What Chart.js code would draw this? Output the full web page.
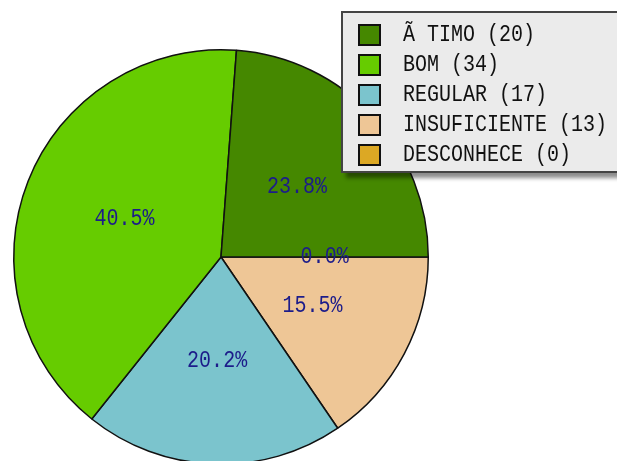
<!DOCTYPE html>
<html>
<head>
<meta charset="utf-8">
<script src="https://cdn.jsdelivr.net/npm/chart.js@4"></script>
<style>
  html, body { margin: 0; padding: 0; background: #fff; overflow: hidden; }
  #wrap { position: relative; width: 617px; height: 470px; }
  #legend {
    position: absolute; left: 341px; top: 11px; width: 290px; height: 158px;
    background: #ebebeb; border: 2px solid #444;
    box-shadow: 5px 5px 4px rgba(0,0,0,0.45);
    font-family: 'Liberation Mono', monospace; font-size: 20px; color: #111;
  }
  .row { position: absolute; left: 15px; height: 22px; line-height: 22px; white-space: nowrap; }
  .sw { position: absolute; left: 0; top: 0; width: 19px; height: 18px; border: 2px solid #111; }
  .lbl { position: absolute; left: 45px; top: 0; transform: scaleY(1.15); transform-origin: 0 50%; }
</style>
</head>
<body>
<div id="wrap">
  <canvas id="pie" width="617" height="470"></canvas>
  <div id="legend"></div>
</div>
<script>
// categories and values, in legend order
const categories = ['Ã TIMO', 'BOM', 'REGULAR', 'INSUFICIENTE', 'DESCONHECE'];
const counts = [20, 34, 17, 13, 0];
const colors = ['#458800', '#66cc00', '#7bc4cd', '#eec696', '#dca824'];

// html legend
const legend = document.getElementById('legend');
categories.forEach((name, i) => {
    const row = document.createElement('div');
    row.className = 'row';
    row.style.top = (11 + i * 30) + 'px';
    row.innerHTML = '<span class="sw" style="background:' + colors[i] + '"></span>' +
        '<span class="lbl">' + name + ' (' + counts[i] + ')</span>';
    legend.appendChild(row);
});

const total = counts.reduce((a, b) => a + b, 0);

// the original runs counter-clockwise from 3 o'clock, Chart.js goes clockwise,
// so feed the slices in reverse
const revLabels = categories.slice().reverse();
const revCounts = counts.slice().reverse();
const revColors = colors.slice().reverse();

const pctLabels = {
    id: 'pctLabels',
    afterDatasetsDraw(chart) {
        const ctx = chart.ctx;
        const meta = chart.getDatasetMeta(0);
        ctx.save();
        ctx.font = "20px 'Liberation Mono', monospace";
        ctx.fillStyle = '#1c1c8a';
        ctx.textAlign = 'center';
        ctx.textBaseline = 'middle';
        meta.data.forEach((arc, i) => {
            const p = arc.getProps(['x', 'y', 'startAngle', 'endAngle', 'outerRadius'], true);
            const mid = (p.startAngle + p.endAngle) / 2;
            const r = p.outerRadius / 2;
            const pct = (revCounts[i] / total * 100).toFixed(1) + '%';
            ctx.save();
            ctx.translate(p.x + Math.cos(mid) * r, p.y + Math.sin(mid) * r);
            ctx.scale(1, 1.15);
            ctx.fillText(pct, 0, 0);
            ctx.restore();
        });
        ctx.restore();
    }
};

new Chart(document.getElementById('pie'), {
    type: 'pie',
    data: {
        labels: revLabels,
        datasets: [{
            data: revCounts,
            backgroundColor: revColors,
            borderColor: '#111',
            borderWidth: 1.5
        }]
    },
    options: {
        responsive: false,
        animation: false,
        rotation: 90,
        layout: { padding: { left: 13, right: 188, top: 49, bottom: 5 } },
        plugins: {
            legend: { display: false },
            tooltip: { enabled: false }
        }
    },
    plugins: [pctLabels]
});
</script>
</body>
</html>
